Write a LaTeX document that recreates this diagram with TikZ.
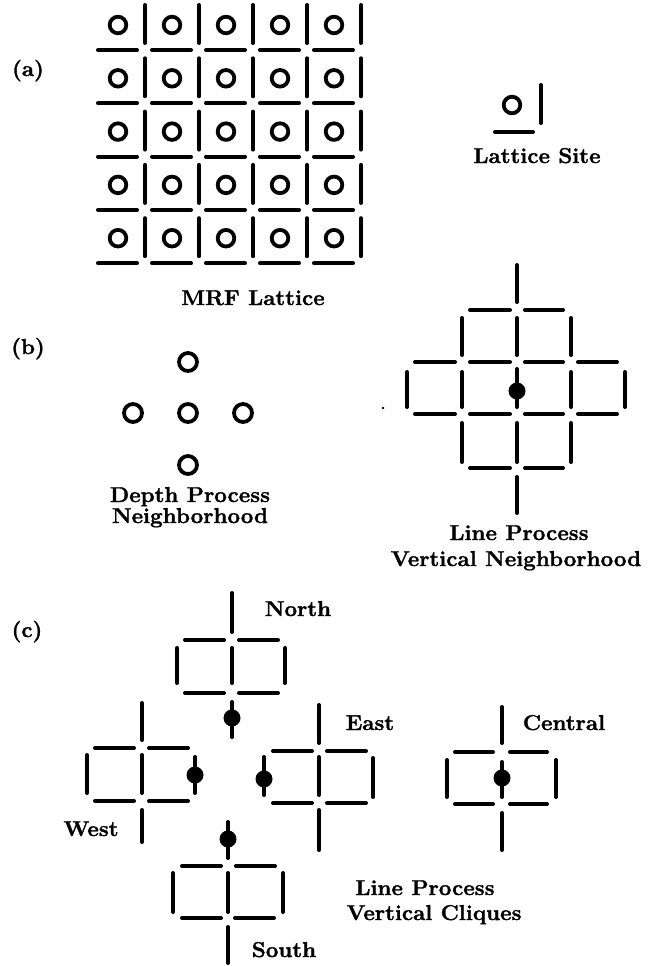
\documentclass[tikz,border=0pt]{standalone}
\usepackage{fontspec}
\newfontfamily\heavyfont{Latin Modern Roman}[FakeBold=1.5,FakeStretch=1.04]
\begin{document}
\begin{tikzpicture}[x=1pt,y=-1pt,
  bar/.style={line width=4pt,line cap=round},
  ring/.style={line width=3.8pt},
  lbl/.style={font=\heavyfont\bfseries\fontsize{21.5}{25}\selectfont,inner sep=0pt,anchor=base}]
\useasboundingbox (0,0) rectangle (651,966);
\newcommand{\myH}[3]{\draw[bar] (#1,#3) -- (#2,#3);}
\newcommand{\myV}[3]{\draw[bar] (#1,#2) -- (#1,#3);}
\newcommand{\myDot}[4]{\draw[bar] (#1,#2) -- (#1,#3); \fill (#1,#4) circle[radius=8.5];}
% (a) MRF lattice
\foreach \i in {0,...,4}{
  \foreach \j in {0,...,4}{
    \pgfmathsetmacro{\cx}{118+54*\i}
    \pgfmathsetmacro{\cy}{25+53.3*\j}
    \draw[ring] (\cx,\cy) circle[radius=8.3];
    \draw[bar] ({\cx+27},{\cy-20}) -- ({\cx+27},{\cy+18});
    \draw[bar] ({\cx-20},{\cy+25}) -- ({\cx+19},{\cy+25});
  }
}
% lattice site
\draw[ring] (512,105) circle[radius=8.3];
\myV{541}{85}{123}
\myH{495}{533}{132}
\node[lbl] (la) at (28,76) {(a)};
\node[lbl] (mrf) at (253,305) {MRF Lattice};
\node[lbl] (site) at (537,163) {Lattice Site};
% (b) depth process neighborhood
\node[lbl] (lb) at (28,354) {(b)};
\foreach \p in {(188,362),(133,413),(188,413),(243,413),(188,465)}
  \draw[ring] \p circle[radius=9];
\node[lbl] (dp1) at (190,502) {Depth Process};
\node[lbl] (dp2) at (190,523) {Neighborhood};
% line process vertical neighborhood
\myV{517}{265}{302}
\myH{470}{510}{310}\myH{525}{563}{310}
\myV{462}{318}{355}\myV{517}{318}{355}\myV{571}{318}{355}
\myH{415}{455}{362}\myH{470}{510}{362}\myH{525}{563}{362}\myH{578}{617}{362}
\myV{407}{372}{407}\myV{462}{372}{407}\myV{571}{372}{407}\myV{625}{372}{407}
\myDot{517}{369}{407}{391}
\myH{415}{455}{414}\myH{470}{510}{414}\myH{525}{563}{414}\myH{578}{617}{414}
\myV{462}{423}{462}\myV{517}{423}{462}\myV{571}{423}{462}
\myH{470}{510}{468}\myH{525}{563}{468}
\myV{517}{477}{513}
\fill (383,408) circle[radius=1.3];
\node[lbl] (lp1) at (519,540) {Line Process};
\node[lbl] (lp2) at (516,566) {Vertical Neighborhood};
% (c)
\node[lbl] (lc) at (27,637) {(c)};
% North
\myV{232}{593}{632}
\myH{185}{224}{640}\myH{239}{278}{640}
\myV{177}{648}{683}\myV{232}{648}{683}\myV{285}{648}{683}
\myH{185}{224}{693}\myH{239}{278}{693}
\myDot{232}{702}{737}{718}
\node[lbl] (north) at (298,616) {North};
% West
\myV{142}{703}{740}
\myH{95}{134}{748}\myH{149}{188}{748}
\myV{87}{755}{793}\myV{142}{755}{793}
\myDot{195}{757}{793}{775}
\myH{95}{134}{801}\myH{149}{188}{801}
\myV{142}{810}{842}
\node[lbl] (west) at (91,836) {West};
% East
\myDot{264}{757}{795}{779}
\myV{319}{705}{743}
\myH{273}{312}{751}\myH{327}{366}{751}
\myV{319}{757}{795}\myV{373}{758}{797}
\myH{273}{312}{803}\myH{327}{366}{803}
\myV{319}{810}{850}
\node[lbl] (east) at (370,730) {East};
% Central
\myV{502}{707}{743}
\myH{455}{493}{752}\myH{510}{547}{752}
\myV{447}{760}{797}\myV{556}{760}{797}
\myDot{502}{762}{797}{778}
\myH{455}{493}{804}\myH{510}{547}{804}
\myV{502}{813}{850}
\node[lbl] (central) at (564,730) {Central};
% South
\myDot{228}{822}{858}{839}
\myH{182}{221}{866}\myH{236}{275}{866}
\myV{173}{873}{912}\myV{228}{873}{912}\myV{283}{873}{912}
\myH{182}{221}{918}\myH{235}{274}{918}
\myV{228}{927}{963}
\node[lbl] (south) at (284,957) {South};
\node[lbl] (lc1) at (425,895) {Line Process};
\node[lbl] (lc2) at (434,920) {Vertical Cliques};
\end{tikzpicture}
\end{document}
